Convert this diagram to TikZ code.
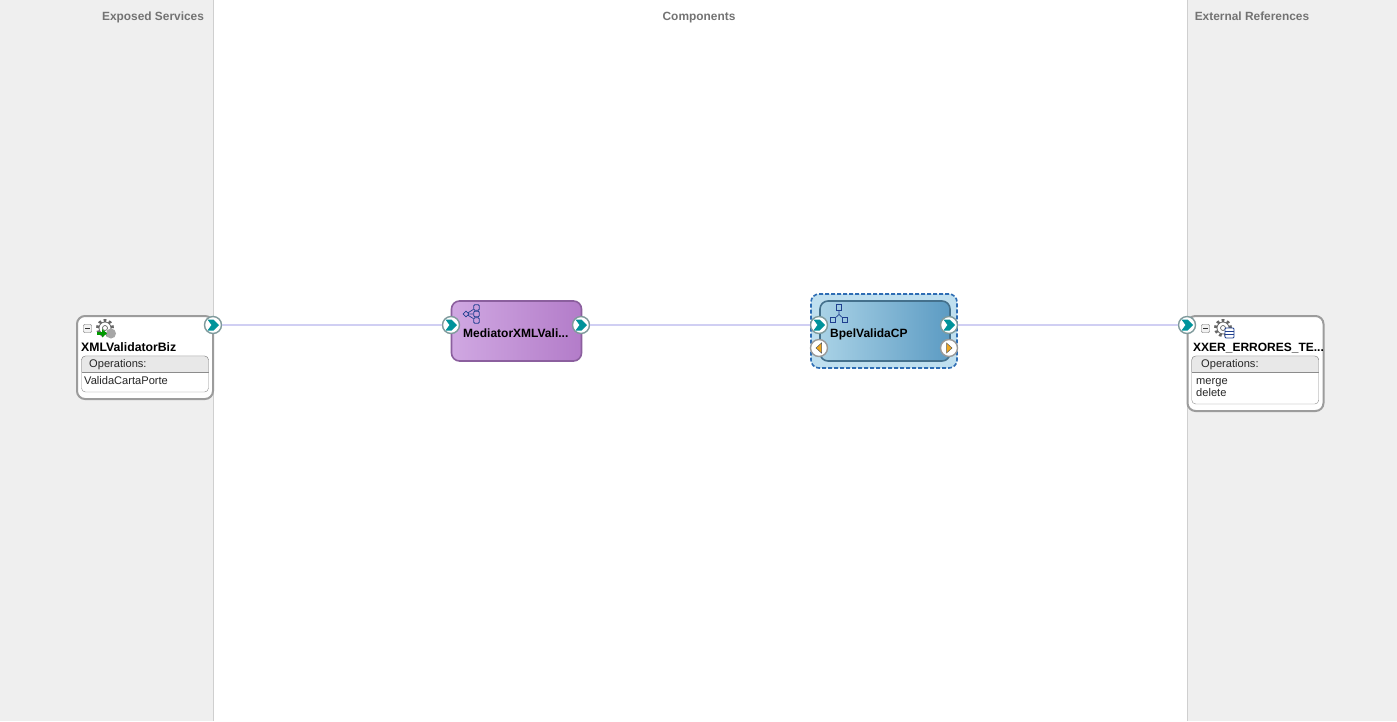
\documentclass[tikz,border=0pt]{standalone}
\usepackage{fontspec}
\setmainfont{Liberation Sans}
\usetikzlibrary{shapes.geometric}
\usetikzlibrary{calc}
\definecolor{panelgray}{HTML}{EFEFEF}
\definecolor{panelline}{HTML}{CFCFCF}
\definecolor{wireblue}{HTML}{D0CFF3}
\definecolor{boxline}{HTML}{9C9C9C}
\definecolor{tealfill}{HTML}{00939B}
\definecolor{portline}{HTML}{7F9A9C}
\definecolor{iconblue}{HTML}{1F3F8F}
\definecolor{medleft}{HTML}{D0A8E2}
\definecolor{medright}{HTML}{B37CC9}
\definecolor{medline}{HTML}{8B5F9E}
\definecolor{bpelleft}{HTML}{A9D2E6}
\definecolor{bpelright}{HTML}{5C9BC3}
\definecolor{bpelline}{HTML}{44708C}
\definecolor{bpelhalo}{HTML}{BFDFEF}
\definecolor{bpeldash}{HTML}{2E6DB4}
\definecolor{arroworange}{HTML}{F0A820}

\begin{document}
\begin{tikzpicture}[x=1pt,y=-1pt]

\tikzset{
  % header texts above the three columns
  columntitle/.style={font=\fontsize{11.9}{14}\selectfont\bfseries, text=black!55, inner sep=0pt, anchor=base},
  % white cards for services and references
  cardbox/.style={draw=boxline, line width=2pt, fill=white, rounded corners=8pt, inner sep=0pt, minimum width=136pt},
  cardname/.style={font=\fontsize{12}{14}\selectfont\bfseries, inner sep=0pt, anchor=base west},
  opsbox/.style={draw=black!45, fill=white, rounded corners=4pt, inner sep=0pt, minimum width=127pt},
  opshead/.style={font=\fontsize{11.1}{12}\selectfont, inner sep=0pt, anchor=base west, text=black!85},
  opsitem/.style={font=\fontsize{11.1}{12}\selectfont, inner sep=0pt, anchor=base west, text=black!85},
  % wires and ports
  wire/.style={draw=wireblue, line width=2.4pt},
  portbase/.style={circle, draw=portline, line width=1.4pt, fill=white, minimum size=17pt, inner sep=0pt},
  portteal/.style={portbase, path picture={
      \fill[tealfill] ($(path picture bounding box.center)+(-5.5,-5.5)$) -- ++(6,0) -- ++(5.5,5.5) -- ++(-5.5,5.5) -- ++(-6,0) -- ++(4,-5.5) -- cycle;
  }},
  portleft/.style={portbase, draw=black!40, path picture={
      \fill[arroworange, draw=black!65, line width=.5pt] ($(path picture bounding box.center)+(2.5,-5)$) -- ++(0,10) -- ++(-5.5,-5) -- cycle;
  }},
  portright/.style={portbase, draw=black!40, path picture={
      \fill[arroworange, draw=black!65, line width=.5pt] ($(path picture bounding box.center)+(-2.5,-5)$) -- ++(0,10) -- ++(5.5,-5) -- cycle;
  }},
  compname/.style={font=\fontsize{12}{14}\selectfont\bfseries, inner sep=0pt, anchor=base west},
  togglebox/.style={draw=black!60, fill=black!5, rounded corners=1pt, minimum size=8pt, inner sep=0pt,
    path picture={\draw[black!80] ($(path picture bounding box.center)+(-2.5,0)$) -- ++(5,0);}},
  treebit/.style={draw=iconblue, fill=none, line width=.8pt, minimum size=5.5pt, inner sep=0pt},
  gearbit/.style={circle, draw=black!60, line width=3pt, dash pattern=on 2.6pt off 2.6pt, minimum size=15pt, inner sep=0pt},
  gearhub/.style={circle, draw=black!60, fill=white, line width=.8pt, minimum size=12pt, inner sep=0pt},
  gearcore/.style={circle, draw=black!60, fill=white, line width=.7pt, minimum size=5pt, inner sep=0pt},
}

\useasboundingbox (0,0) rectangle (1397,721);

% columns
\fill[white] (0,0) rectangle (1397,721);
\fill[panelgray] (0,0) rectangle (213.5,721);
\fill[panelgray] (1187.5,0) rectangle (1397,721);
\draw[panelline] (213.5,0) -- (213.5,721);
\draw[panelline] (1187.5,0) -- (1187.5,721);

\node[columntitle] (exposedtitle) at (153,20) {Exposed Services};
\node[columntitle] (comptitle) at (699,20) {Components};
\node[columntitle] (reftitle) at (1252,20) {External References};

% left card
\node[cardbox, minimum height=83pt] (bizcard) at (145,357.5) {};
\node[opsbox, minimum height=36pt] (bizops) at (145,374) {};
\draw[black!45, fill=black!9, rounded corners=4pt] (81.5,372) -- (81.5,356) -- (208.5,356) -- (208.5,372);
\fill[black!9] (82,364) rectangle (208,371.5);
\draw[black!45] (81.5,372) -- (208.5,372);
\node[togglebox] (biztoggle) at (87.5,328.5) {};
\node[gearbit] (bizgear) at (105,328) {};
\node[gearhub] (bizhub) at (105,328) {};
\node[gearcore] (bizcore) at (105,328) {};
\fill[black!35] (111,333.5) circle (5pt);
\fill[green!60!black] (97,331.5) rectangle (102.5,335);
\fill[green!60!black] (102,329) -- (107,333.3) -- (102,337.6) -- cycle;
\node[cardname, font=\fontsize{12.25}{14}\selectfont\bfseries] (bizname) at (81,351) {XMLValidatorBiz};
\node[opshead] (bizhead) at (89,367) {Operations:};
\node[opsitem] (bizitem) at (84,384) {ValidaCartaPorte};

% mediator
\node[draw=medline, line width=1.6pt, rounded corners=8pt, left color=medleft, right color=medright,
  minimum width=130pt, minimum height=60pt, inner sep=0pt] (mediator) at (516.5,331) {};
\node[treebit, diamond, minimum size=6pt, aspect=1] (medroot) at (466,314) {};
\node[treebit, rounded corners=1pt] (meda) at (476.5,307.5) {};
\node[treebit, rounded corners=1pt] (medb) at (476.5,314) {};
\node[treebit, rounded corners=1pt] (medc) at (476.5,320.5) {};
\draw[iconblue, line width=.7pt] (medroot) -- (meda) (medroot) -- (medb) (medroot) -- (medc);
\node[compname] (medname) at (463,337) {MediatorXMLVali...};

% bpel
\node[draw=bpeldash, line width=1.6pt, dash pattern=on 4pt off 2pt, rounded corners=8pt, fill=bpelhalo,
  minimum width=146pt, minimum height=74pt, inner sep=0pt] (bpelsel) at (884,331) {};
\node[draw=bpelline, line width=1.6pt, rounded corners=8pt, left color=bpelleft, right color=bpelright,
  minimum width=130pt, minimum height=60pt, inner sep=0pt] (bpel) at (885,331) {};
\node[treebit] (bpeltop) at (839,307.5) {};
\node[treebit] (bpela) at (833,320) {};
\node[treebit] (bpelb) at (845,320) {};
\coordinate (bpelmid) at (839,314.5);
\draw[iconblue, line width=.7pt] (bpeltop) -- (bpelmid) (bpelmid) -- (bpela) (bpelmid) -- (bpelb);
\node[compname] (bpelname) at (830,337) {BpelValidaCP};

% right card
\node[cardbox, minimum height=95pt] (refcard) at (1255.5,363.5) {};
\node[opsbox, minimum height=48pt] (refops) at (1255.25,380) {};
\draw[black!45, fill=black!9, rounded corners=4pt] (1191.75,372) -- (1191.75,356) -- (1318.75,356) -- (1318.75,372);
\fill[black!9] (1192.25,364) rectangle (1318.25,371.5);
\draw[black!45] (1191.75,372) -- (1318.75,372);
\node[togglebox] (reftoggle) at (1205.5,328.5) {};
\node[gearbit] (refgear) at (1223,328) {};
\node[gearhub] (refhub) at (1223,328) {};
\node[gearcore] (refcore) at (1223,328) {};
\draw[iconblue, fill=white, line width=.8pt, rounded corners=1pt] (1225,328) rectangle (1234,338);
\draw[iconblue, line width=.7pt] (1225,331) -- (1234,331) (1225,334.5) -- (1234,334.5);
\node[cardname] (refname) at (1193,351) {XXER\_ERRORES\_TE...};
\node[opshead] (refhead) at (1201,367) {Operations:};
\node[opsitem] (refitema) at (1196,384) {merge};
\node[opsitem] (refitemb) at (1196,396) {delete};

% ports
\node[portteal] (bizout) at (213,325) {};
\node[portteal] (medin) at (451,325) {};
\node[portteal] (medout) at (581,325) {};
\node[portteal] (bpelin) at (819,325) {};
\node[portteal] (bpelout) at (949,325) {};
\node[portleft] (bpelback) at (819,348) {};
\node[portright] (bpelcall) at (949,348) {};
\node[portteal] (refin) at (1187,325) {};

\draw[wire] (bizout) -- (medin);
\draw[wire] (medout) -- (bpelin);
\draw[wire] (bpelout) -- (refin);

\end{tikzpicture}
\end{document}
